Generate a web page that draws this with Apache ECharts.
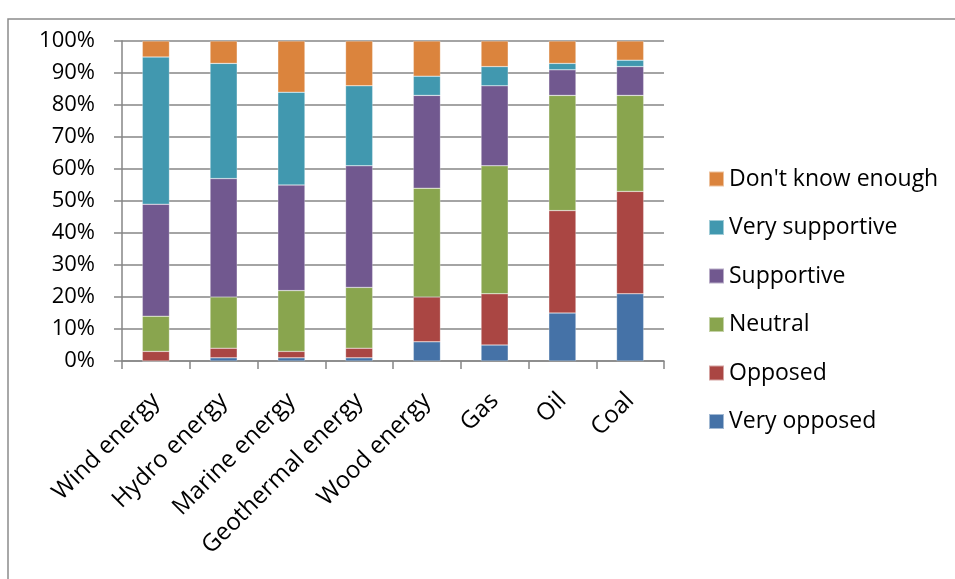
<!DOCTYPE html>
<html>
<head>
<meta charset="utf-8">
<script src="https://cdn.jsdelivr.net/npm/echarts@6/dist/echarts.min.js"></script>
<style>
  html, body { margin: 0; padding: 0; background: #fff; }
  #chart { width: 955px; height: 579px; }
</style>
</head>
<body>
<div id="chart"></div>
<script>
// Attitudes towards energy sources, share of respondents (%)
const categories = ['Wind energy', 'Hydro energy', 'Marine energy', 'Geothermal energy', 'Wood energy', 'Gas', 'Oil', 'Coal'];
const veryOpposed     = [0, 1, 1, 1, 6, 5, 15, 21];
const opposed         = [3, 3, 2, 3, 14, 16, 32, 32];
const neutral         = [11, 16, 19, 19, 34, 40, 36, 30];
const supportive      = [35, 37, 33, 38, 29, 25, 8, 9];
const verySupportive  = [46, 36, 29, 25, 6, 6, 2, 2];
const dontKnowEnough  = [5, 7, 16, 14, 11, 8, 7, 6];
const yTickLabels = ['0%', '10%', '20%', '30%', '40%', '50%', '60%', '70%', '80%', '90%', '100%'];

const seriesDefs = [
  { name: 'Very opposed', data: veryOpposed, color: '#4572A7' },
  { name: 'Opposed', data: opposed, color: '#AA4643' },
  { name: 'Neutral', data: neutral, color: '#89A54E' },
  { name: 'Supportive', data: supportive, color: '#71588F' },
  { name: 'Very supportive', data: verySupportive, color: '#4198AF' },
  { name: "Don't know enough", data: dontKnowEnough, color: '#DB843D' }
];

const font = '"Open Sans", "Noto Sans", sans-serif';
const chart = echarts.init(document.getElementById('chart'), null, { renderer: 'canvas' });

chart.setOption({
  animation: false,
  backgroundColor: '#fff',
  textStyle: { fontFamily: font },
  graphic: [{
    type: 'rect',
    shape: { x: 8, y: 19, width: 960, height: 580 },
    style: { fill: 'none', stroke: '#8c8c8c', lineWidth: 1.5 },
    silent: true
  }],
  grid: { left: 122, right: 291, top: 41, bottom: 218, containLabel: false },
  legend: {
    orient: 'vertical',
    left: 708,
    top: 167.5,
    padding: 0,
    itemWidth: 15,
    itemHeight: 15,
    itemGap: 25.5,
    icon: 'rect',
    data: seriesDefs.map(s => s.name).reverse(),
    textStyle: { fontFamily: font, fontSize: 23, color: '#000' }
  },
  xAxis: {
    type: 'category',
    data: categories,
    axisLine: { lineStyle: { color: '#868686', width: 1.5 } },
    axisTick: { show: true, alignWithLabel: false, length: 8, lineStyle: { color: '#868686', width: 1.5 } },
    axisLabel: { rotate: 45, fontFamily: font, fontSize: 24, color: '#000', margin: 36, interval: 0 }
  },
  yAxis: {
    type: 'value',
    min: 0,
    max: 100,
    interval: 10,
    axisLine: { show: true, lineStyle: { color: '#868686', width: 1.5 } },
    axisTick: { show: true, length: 8, lineStyle: { color: '#868686', width: 1.5 } },
    splitLine: { lineStyle: { color: '#868686', width: 1.5 } },
    axisLabel: {
      fontFamily: font, fontSize: 22, color: '#000', margin: 27,
      formatter: v => yTickLabels[Math.round(v / 10)]
    }
  },
  series: seriesDefs.map(s => ({
    name: s.name,
    type: 'bar',
    stack: 'total',
    barWidth: '40%',
    data: s.data,
    itemStyle: { color: s.color, borderColor: 'rgba(255,255,255,0.5)', borderWidth: 0.5 }
  }))
});
</script>
</body>
</html>
